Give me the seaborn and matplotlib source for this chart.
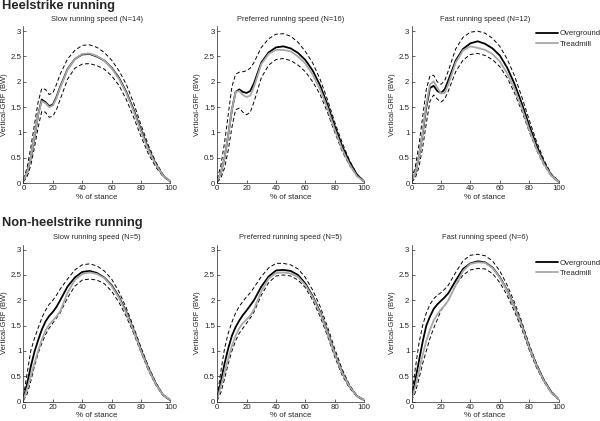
import numpy as np
import pandas as pd
import matplotlib
matplotlib.use("Agg")
import matplotlib.pyplot as plt
import seaborn as sns

stance = [0, 2.5, 5, 7.5, 10, 12.5, 15, 17.5, 20, 22.5, 25, 30, 35, 40, 45,
          50, 55, 60, 65, 70, 75, 80, 85, 90, 95, 100]

# ── Heelstrike running ─────────────────────────────
hs_slow_over = [0.05, 0.2, 0.5, 0.9, 1.35, 1.65, 1.6, 1.52, 1.55, 1.7, 1.9, 2.25, 2.45, 2.54, 2.55,
                2.5, 2.42, 2.28, 2.08, 1.8, 1.45, 1.05, 0.68, 0.38, 0.15, 0.03]
hs_slow_tread = [0.05, 0.2, 0.5, 0.92, 1.35, 1.62, 1.58, 1.5, 1.53, 1.68, 1.88, 2.24, 2.45, 2.55, 2.56,
                 2.51, 2.42, 2.27, 2.06, 1.78, 1.42, 1.02, 0.66, 0.37, 0.15, 0.03]
hs_slow_up = [0.08, 0.3, 0.7, 1.15, 1.6, 1.87, 1.85, 1.75, 1.78, 1.95, 2.15, 2.45, 2.62, 2.72, 2.73,
              2.68, 2.58, 2.43, 2.22, 1.95, 1.58, 1.15, 0.75, 0.42, 0.17, 0.03]
hs_slow_lo = [0.03, 0.12, 0.35, 0.7, 1.1, 1.42, 1.4, 1.3, 1.32, 1.45, 1.65, 2.05, 2.27, 2.35, 2.36,
              2.32, 2.25, 2.12, 1.93, 1.65, 1.3, 0.92, 0.58, 0.32, 0.13, 0.02]

hs_pref_over = [0.05, 0.2, 0.5, 0.95, 1.45, 1.8, 1.85, 1.8, 1.78, 1.82, 1.97, 2.38, 2.58, 2.68, 2.7,
                2.66, 2.57, 2.43, 2.22, 1.93, 1.55, 1.12, 0.73, 0.42, 0.17, 0.03]
hs_pref_tread = [0.05, 0.2, 0.5, 0.95, 1.45, 1.8, 1.82, 1.74, 1.7, 1.73, 1.9, 2.35, 2.55, 2.63, 2.63,
                 2.6, 2.5, 2.36, 2.14, 1.85, 1.48, 1.05, 0.67, 0.37, 0.14, 0.03]
hs_pref_up = [0.08, 0.35, 0.8, 1.35, 1.9, 2.15, 2.19, 2.2, 2.22, 2.27, 2.38, 2.68, 2.85, 2.94, 2.95,
              2.9, 2.78, 2.6, 2.37, 2.05, 1.65, 1.2, 0.8, 0.45, 0.18, 0.03]
hs_pref_lo = [0.02, 0.1, 0.3, 0.65, 1.1, 1.45, 1.48, 1.4, 1.35, 1.4, 1.6, 2.08, 2.33, 2.44, 2.46,
              2.42, 2.33, 2.2, 2.0, 1.75, 1.4, 1.0, 0.63, 0.35, 0.14, 0.02]

hs_fast_over = [0.05, 0.2, 0.52, 0.98, 1.5, 1.88, 1.92, 1.82, 1.78, 1.85, 2.03, 2.42, 2.65, 2.76, 2.8,
                2.75, 2.66, 2.52, 2.28, 1.96, 1.57, 1.14, 0.74, 0.41, 0.16, 0.03]
hs_fast_tread = [0.05, 0.2, 0.52, 1.0, 1.55, 1.95, 2.01, 1.88, 1.77, 1.78, 1.95, 2.38, 2.62, 2.7, 2.67,
                 2.63, 2.55, 2.4, 2.17, 1.86, 1.48, 1.06, 0.68, 0.38, 0.15, 0.03]
hs_fast_up = [0.08, 0.32, 0.75, 1.3, 1.85, 2.12, 2.13, 2.0, 1.95, 2.02, 2.22, 2.65, 2.88, 2.98, 3.0,
              2.96, 2.86, 2.7, 2.45, 2.12, 1.7, 1.25, 0.82, 0.46, 0.18, 0.04]
hs_fast_lo = [0.02, 0.1, 0.32, 0.7, 1.18, 1.62, 1.74, 1.66, 1.6, 1.66, 1.82, 2.2, 2.43, 2.54, 2.56,
              2.52, 2.44, 2.3, 2.08, 1.78, 1.42, 1.02, 0.65, 0.36, 0.14, 0.02]

# ── Non-heelstrike running ─────────────────────────
nhs_slow_over = [0.05, 0.35, 0.69, 0.98, 1.21, 1.42, 1.58, 1.69, 1.77, 1.87, 2.0, 2.27, 2.45, 2.56, 2.58,
                 2.54, 2.45, 2.3, 2.07, 1.77, 1.41, 1.02, 0.66, 0.36, 0.13, 0.03]
nhs_slow_tread = [0.04, 0.25, 0.5, 0.76, 1.0, 1.22, 1.4, 1.52, 1.6, 1.68, 1.78, 2.15, 2.4, 2.52, 2.55,
                  2.52, 2.44, 2.28, 2.05, 1.75, 1.4, 1.0, 0.65, 0.35, 0.13, 0.03]
nhs_slow_up = [0.1, 0.55, 1.0, 1.25, 1.45, 1.65, 1.8, 1.92, 2.0, 2.1, 2.22, 2.42, 2.6, 2.7, 2.72,
               2.68, 2.58, 2.42, 2.17, 1.85, 1.47, 1.07, 0.7, 0.38, 0.14, 0.03]
nhs_slow_lo = [0.02, 0.15, 0.4, 0.7, 0.95, 1.15, 1.32, 1.45, 1.55, 1.65, 1.75, 2.05, 2.28, 2.4, 2.42,
               2.4, 2.33, 2.18, 1.96, 1.68, 1.35, 0.97, 0.62, 0.33, 0.12, 0.02]

nhs_pref_over = [0.05, 0.4, 0.75, 1.05, 1.3, 1.47, 1.6, 1.71, 1.8, 1.9, 2.0, 2.27, 2.47, 2.59, 2.6,
                 2.58, 2.5, 2.33, 2.08, 1.77, 1.38, 0.95, 0.58, 0.3, 0.11, 0.03]
nhs_pref_tread = [0.04, 0.3, 0.58, 0.85, 1.1, 1.3, 1.45, 1.55, 1.62, 1.7, 1.82, 2.18, 2.43, 2.54, 2.55,
                  2.53, 2.46, 2.3, 2.06, 1.75, 1.36, 0.94, 0.57, 0.3, 0.11, 0.03]
nhs_pref_up = [0.1, 0.6, 1.05, 1.35, 1.57, 1.75, 1.88, 1.98, 2.07, 2.15, 2.25, 2.47, 2.64, 2.73, 2.73,
               2.7, 2.62, 2.45, 2.2, 1.88, 1.48, 1.04, 0.64, 0.33, 0.12, 0.03]
nhs_pref_lo = [0.02, 0.18, 0.45, 0.75, 1.0, 1.2, 1.35, 1.45, 1.55, 1.65, 1.77, 2.1, 2.35, 2.48, 2.5,
               2.48, 2.4, 2.25, 2.0, 1.68, 1.3, 0.88, 0.52, 0.27, 0.1, 0.02]

nhs_fast_over = [0.05, 0.42, 0.8, 1.18, 1.5, 1.68, 1.83, 1.92, 1.99, 2.06, 2.14, 2.39, 2.62, 2.73, 2.77,
                 2.75, 2.65, 2.46, 2.2, 1.87, 1.51, 1.08, 0.72, 0.42, 0.19, 0.05]
nhs_fast_tread = [0.04, 0.3, 0.6, 0.92, 1.2, 1.42, 1.6, 1.72, 1.82, 1.9, 2.0, 2.3, 2.58, 2.72, 2.75,
                  2.74, 2.64, 2.45, 2.19, 1.86, 1.5, 1.07, 0.71, 0.41, 0.18, 0.05]
nhs_fast_up = [0.1, 0.65, 1.15, 1.5, 1.75, 1.92, 2.03, 2.1, 2.15, 2.22, 2.3, 2.55, 2.78, 2.89, 2.91,
               2.88, 2.78, 2.58, 2.3, 1.96, 1.57, 1.13, 0.75, 0.44, 0.2, 0.05]
nhs_fast_lo = [0.02, 0.18, 0.45, 0.75, 1.0, 1.25, 1.45, 1.62, 1.8, 1.9, 2.0, 2.3, 2.5, 2.6, 2.63,
               2.62, 2.53, 2.35, 2.1, 1.78, 1.43, 1.02, 0.67, 0.39, 0.17, 0.04]

titles = ["Slow running speed (N=14)", "Preferred running speed (N=16)", "Fast running speed (N=12)",
          "Slow running speed (N=5)", "Preferred running speed (N=5)", "Fast running speed (N=6)"]
row_titles = ["Heelstrike running", "Non-heelstrike running"]

panels = [
    (hs_slow_over, hs_slow_tread, hs_slow_up, hs_slow_lo),
    (hs_pref_over, hs_pref_tread, hs_pref_up, hs_pref_lo),
    (hs_fast_over, hs_fast_tread, hs_fast_up, hs_fast_lo),
    (nhs_slow_over, nhs_slow_tread, nhs_slow_up, nhs_slow_lo),
    (nhs_pref_over, nhs_pref_tread, nhs_pref_up, nhs_pref_lo),
    (nhs_fast_over, nhs_fast_tread, nhs_fast_up, nhs_fast_lo),
]

sns.set_style("ticks")
plt.rcParams["font.family"] = ["Liberation Sans", "DejaVu Sans"]
plt.rcParams["xtick.direction"] = "in"
plt.rcParams["ytick.direction"] = "in"

FS = 5.4
fig = plt.figure(figsize=(6.0, 4.21), dpi=100)

lefts = [0.039, 0.362, 0.686]
bottoms = [0.565, 0.046]
w, h = 0.245, 0.373
legend_y = [0.975, 0.905]

for i, (over, tread, up, lo) in enumerate(panels):
    r, c = divmod(i, 3)
    ax = fig.add_axes([lefts[c], bottoms[r], w, h])
    df = pd.DataFrame({"stance": stance, "over": over, "tread": tread, "up": up, "lo": lo})

    # ± SD band of overground (dashed)
    sns.lineplot(data=df, x="stance", y="up", ax=ax, color="black", lw=0.7,
                 linestyle=(0, (4, 2.5)))
    sns.lineplot(data=df, x="stance", y="lo", ax=ax, color="black", lw=0.7,
                 linestyle=(0, (4, 2.5)))
    sns.lineplot(data=df, x="stance", y="over", ax=ax, color="black", lw=1.3,
                 label="Overground")
    sns.lineplot(data=df, x="stance", y="tread", ax=ax, color="#a8a8a8", lw=1.3,
                 label="Treadmill")

    ax.set_xlim(0, 100)
    ax.set_ylim(0, 3.1)
    ax.set_xticks([0, 20, 40, 60, 80, 100])
    ax.set_yticks([0, 0.5, 1, 1.5, 2, 2.5, 3])
    ax.set_yticklabels(["0", "0.5", "1", "1.5", "2", "2.5", "3"])
    ax.tick_params(labelsize=FS + 0.3, length=2, width=0.5, pad=1.5)
    for s in ["left", "bottom"]:
        ax.spines[s].set_linewidth(0.5)
    sns.despine(ax=ax)
    ax.set_xlabel("% of stance", fontsize=FS + 0.3, labelpad=1)
    ax.set_ylabel("Vertical-GRF (BW)", fontsize=FS, labelpad=2)
    ax.set_title(titles[i], fontsize=FS, pad=4)

    if c == 2:
        ax.legend(loc="upper left", bbox_to_anchor=(0.845, legend_y[r]), frameon=False,
                  fontsize=FS + 0.2, handlelength=2.8, handletextpad=0.3,
                  borderaxespad=0, borderpad=0, labelspacing=0.35)
    else:
        ax.get_legend().remove()

fig.text(0.004, 1 - 6 / 421, row_titles[0], fontsize=9.3, fontweight="bold", va="center")
fig.text(0.004, 1 - 223 / 421, row_titles[1], fontsize=9.3, fontweight="bold", va="center")

fig.savefig("out.png", dpi=100)
